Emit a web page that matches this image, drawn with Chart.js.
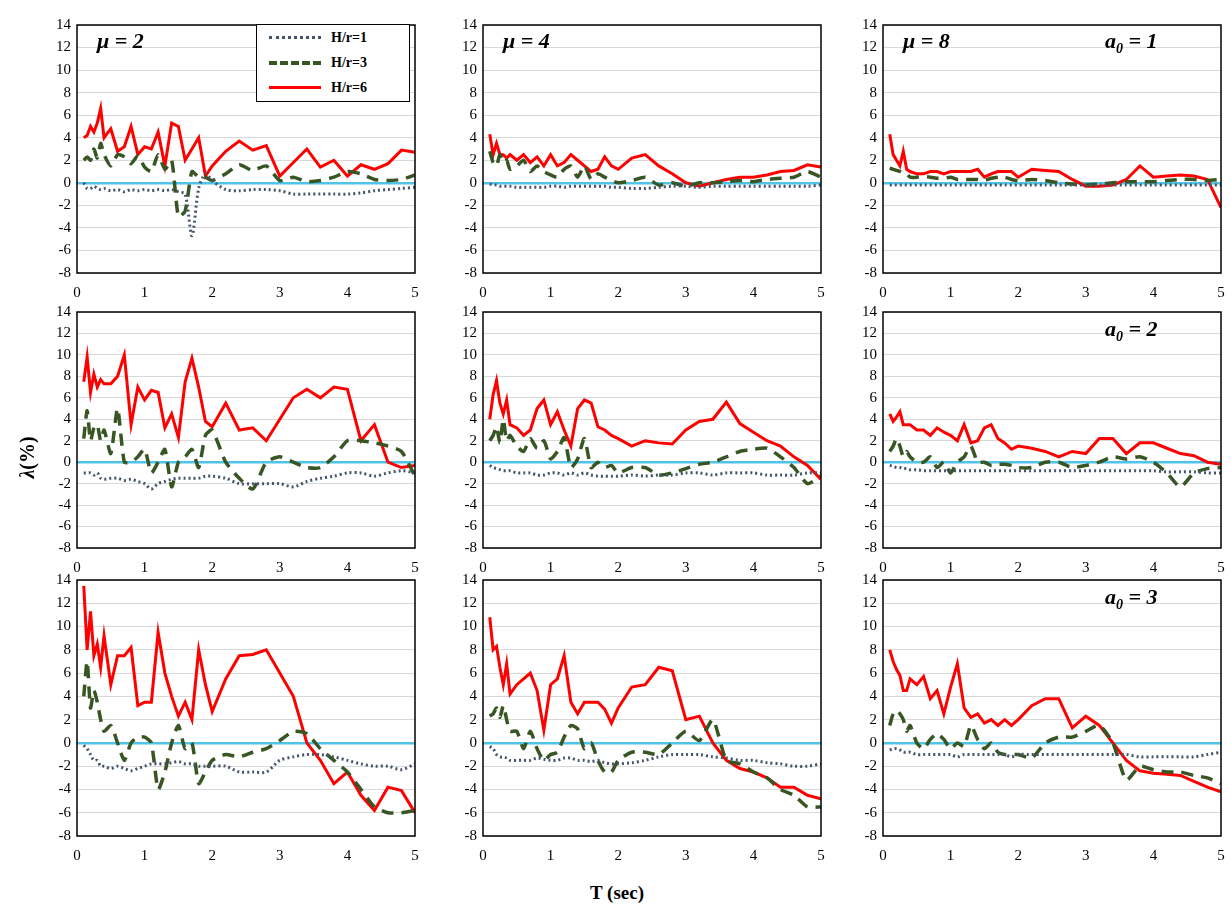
<!DOCTYPE html>
<html><head><meta charset="utf-8">
<script src="https://cdn.jsdelivr.net/npm/chart.js@4"></script>
<style>
body{margin:0;background:#fff;font-family:"Liberation Serif",serif;}
#wrap{position:relative;width:1231px;height:909px;}
canvas{position:absolute;}
.lab{position:absolute;font-weight:bold;font-style:italic;font-size:22px;font-family:"Liberation Serif",serif;}
.lab sub{font-size:14px;}
#legend{position:absolute;left:256px;top:24px;width:152px;height:76px;border:1px solid #000;background:#fff;font-weight:bold;font-size:14px;}
#legend div{height:25px;display:flex;align-items:center;}
#legend span.l{display:inline-block;width:52px;margin:0 10px 0 12px;}
</style></head><body>
<div id="wrap"></div>
<script>
var T = [0.1,0.15,0.2,0.25,0.3,0.35,0.4,0.5,0.6,0.7,0.8,0.9,1.0,1.1,1.2,1.3,1.4,1.5,1.6,1.7,1.8,1.9,2.0,2.2,2.4,2.6,2.8,3.0,3.2,3.4,3.6,3.8,4.0,4.2,4.4,4.6,4.8,5.0];
var yTicks = [-8,-6,-4,-2,0,2,4,6,8,10,12,14];
var xTicks = [0,1,2,3,4,5];

// row 1: a0 = 1
var r1c1_h1 = [0,-0.5,-0.5,-0.3,-0.5,-0.6,-0.5,-0.7,-0.6,-0.8,-0.6,-0.7,-0.6,-0.7,-0.6,-0.7,-0.6,-0.8,-1,-4.7,-0.5,0.8,0.2,-0.6,-0.7,-0.6,-0.6,-0.7,-1,-1,-1,-1,-1,-0.9,-0.7,-0.6,-0.5,-0.4];
var r1c1_h3 = [2,2.3,2,3,2.2,3.5,2.5,1.5,2.5,2.3,1.7,2.4,1.4,1,2.5,1.2,2,-3,-2.5,1,0.5,0.5,0.2,0.8,1.6,1.1,1.5,0.2,0.5,0.1,0.2,0.5,1,0.8,0.3,0.2,0.3,0.7];
var r1c1_h6 = [4,4.2,5,4.5,5.3,6.6,4,4.8,2.8,3.2,5,2.5,3.2,3,4.5,1.5,5.3,5,2,3,4,0.6,1.5,2.8,3.7,2.9,3.3,0.6,1.8,3,1.4,2,0.6,1.6,1.2,1.7,2.9,2.7];
var r1c2_h1 = [-0.1,-0.2,-0.2,-0.3,-0.3,-0.3,-0.3,-0.4,-0.4,-0.4,-0.4,-0.4,-0.3,-0.3,-0.4,-0.3,-0.3,-0.3,-0.3,-0.3,-0.3,-0.4,-0.4,-0.5,-0.5,-0.4,-0.3,-0.3,-0.4,-0.3,-0.3,-0.3,-0.3,-0.3,-0.3,-0.3,-0.3,-0.2];
var r1c2_h3 = [2.8,1.8,1.5,2.5,1.8,2,1.2,1.5,2,1,1.5,1,0.7,0.5,1.2,1.5,0.5,1.5,0.3,0.8,0.5,0.2,0,0.2,0.5,-0.2,0,-0.3,0,0,0.1,0.2,0.1,0.3,0.4,0.5,1,0.5];
var r1c2_h6 = [4.3,2.5,3.5,2.5,2.5,2.2,2.5,2,2.5,1.8,2.3,1.5,2.5,1.5,1.8,2.5,2,1.5,1,1.2,2.3,1.5,1.2,2.2,2.5,1.5,0.8,0,-0.3,0,0.3,0.5,0.5,0.7,1,1.1,1.6,1.4];
var r1c3_h1 = [-0.2,-0.2,-0.2,-0.2,-0.2,-0.2,-0.2,-0.2,-0.2,-0.2,-0.2,-0.2,-0.2,-0.2,-0.2,-0.2,-0.2,-0.2,-0.2,-0.2,-0.2,-0.2,-0.2,-0.2,-0.2,-0.2,-0.2,-0.2,-0.2,-0.2,-0.2,-0.2,-0.2,-0.2,-0.2,-0.2,-0.2,-0.2];
var r1c3_h3 = [1.3,1.2,1.1,1,0.8,0.8,0.5,0.5,0.6,0.5,0.4,0.4,0.5,0.3,0.3,0.3,0.3,0.2,0.4,0.5,0.5,0.3,0.2,0.3,0.2,0,-0.1,-0.2,-0.1,0,0.1,0.1,0.1,0.2,0.3,0.3,0.2,0.3];
var r1c3_h6 = [4.3,2.5,2,1.5,2.8,1.2,1,0.8,0.8,1,1,0.8,1,1,1,1,1.2,0.5,0.8,1,1,1,0.5,1.2,1.1,1,0.3,-0.3,-0.3,-0.2,0.3,1.5,0.5,0.6,0.7,0.6,0.3,-2.2];

// row 2: a0 = 2
var r2c1_h1 = [-1,-1,-1,-1.2,-1,-1.5,-1.6,-1.5,-1.5,-1.7,-1.6,-1.8,-2,-2.5,-2,-1.8,-1.6,-1.5,-1.5,-1.5,-1.5,-1.3,-1.3,-1.5,-2,-2,-2,-2,-2.3,-1.8,-1.5,-1.3,-1,-1,-1.3,-1,-0.8,-1];
var r2c1_h3 = [2.2,4.8,2,3.2,3.5,2,3,0.8,5,0,0,0.5,1.2,-1,0,1.2,-2.3,0,0.5,1.2,-0.5,2.5,3,0,-1.5,-2.5,0,0.5,0,-0.5,-0.5,0.5,2,2,1.8,1.5,1,-1.3];
var r2c1_h6 = [7.5,9.8,6.5,8.2,7,7.7,7.3,7.3,8,10,3.5,7,5.8,6.7,6.5,3.2,4.5,2.3,7.5,9.7,7,3.8,3.3,5.5,3,3.2,2,4,6,6.8,6,7,6.8,2,3.5,0,-0.5,-0.3];
var r2c2_h1 = [-0.3,-0.5,-0.6,-0.7,-0.8,-0.8,-0.8,-1,-1,-1,-1.2,-1.2,-1,-1,-1.2,-1,-1.2,-1,-1.2,-1.3,-1.3,-1.3,-1.3,-1.2,-1.3,-1.2,-1.2,-1,-1,-1.2,-1,-1,-1,-1.2,-1.2,-1.2,-1,-1];
var r2c2_h3 = [2,2.5,3.3,1.8,4,2,2.5,1.5,1,2.2,1.3,2,0.3,1,2.3,-0.5,0.3,2.2,-0.5,0,-0.5,-0.3,-1,-0.5,-0.5,-1.2,-1,-0.6,-0.2,0,0.5,1,1.2,1.3,0.5,-0.5,-2,-1.3];
var r2c2_h6 = [4,6.3,7.6,5.5,4.5,5.8,3.5,3.2,2.5,3,5,5.8,3.5,4.7,3,1.5,5,5.8,5.5,3.3,3,2.5,2.2,1.5,2,1.8,1.7,3,3.8,4,5.6,3.6,2.8,2,1.5,0.5,-0.3,-1.6];
var r2c3_h1 = [-0.3,-0.4,-0.5,-0.5,-0.6,-0.6,-0.7,-0.7,-0.8,-0.8,-0.8,-0.8,-0.8,-0.8,-0.8,-0.8,-0.8,-0.8,-0.8,-0.8,-0.8,-0.8,-0.8,-0.8,-0.8,-0.8,-0.8,-0.8,-0.8,-0.8,-0.8,-0.8,-0.8,-0.9,-0.9,-0.9,-1,-1];
var r2c3_h3 = [1,1.5,2.2,1.5,0.5,1,0.5,0,0,0.5,-0.5,0,-1,0,0.5,1.5,0,0,-0.3,-0.2,-0.2,-0.3,-0.5,-0.5,0,0,-0.5,-0.3,0,0.5,0.3,0.5,0,-1,-2.3,-1,-0.6,-0.5];
var r2c3_h6 = [4.5,3.8,4.2,4.7,3.5,3.5,3.5,3,3,2.5,3.2,2.8,2.5,2,3.5,1.8,2,3.2,3.5,2.2,1.8,1.2,1.5,1.3,1,0.5,1,0.8,2.2,2.2,0.8,1.8,1.8,1.3,0.8,0.6,0,-0.2];

// row 3: a0 = 3
var r3c1_h1 = [-0.2,-0.5,-1,-1.5,-1.5,-2,-2,-2.2,-2,-2.2,-2.4,-2.2,-2,-1.8,-1.8,-1.8,-1.7,-1.6,-1.8,-1.8,-2,-2,-2,-2,-2.5,-2.5,-2.5,-1.5,-1.2,-1,-1,-1.2,-1.5,-1.8,-2,-2,-2.3,-1.8];
var r3c1_h3 = [4,7,3,4.5,3.5,2,1,1.5,0,-1.5,0,0.5,0.5,0,-4,-2.5,0,1.5,-0.5,0,-3.5,-2.5,-1.5,-1,-1.2,-0.8,-0.5,0.2,1,0.8,-0.5,-1.5,-2.5,-4,-5.5,-6,-6,-5.8];
var r3c1_h6 = [13.5,8,11.3,7.5,8.5,6.5,9.2,5,7.5,7.5,8.2,3.2,3.5,3.5,9.5,6,4,2.3,3.5,2,8,5,2.7,5.5,7.5,7.6,8,6,4,0,-1.5,-3.5,-2.5,-4.5,-5.8,-3.8,-4.1,-6];
var r3c2_h1 = [-0.3,-0.5,-1,-1.2,-1.2,-1.3,-1.5,-1.5,-1.5,-1.5,-1.3,-1.4,-1.5,-1.5,-1.3,-1.3,-1.5,-1.5,-1.6,-1.5,-1.7,-1.8,-1.8,-1.7,-1.5,-1.2,-1,-1,-1,-1.2,-1.3,-1.5,-1.5,-1.7,-1.8,-2,-2,-1.8];
var r3c2_h3 = [2.3,2.5,3,2.2,3.2,2,1,1,-0.5,1,-0.5,-1.5,-1,-0.8,0.5,1.5,1.2,-0.5,0,-1.5,-2.5,-2.5,-1.5,-0.8,-0.8,-1,0,1,0.2,2,-1.5,-1.8,-2.5,-3,-4,-4.5,-5.5,-5.5];
var r3c2_h6 = [10.8,8,8.3,6.5,5,6.8,4.2,5,5.5,6,4.5,1.1,5,5.5,7.5,3.5,2.5,3.5,3.5,3.5,2.9,1.7,3,4.8,5,6.5,6.2,2,2.3,0,-1.5,-2.2,-2.5,-3,-3.8,-3.8,-4.5,-4.8];
var r3c3_h1 = [-0.6,-0.5,-0.5,-0.6,-0.8,-0.8,-0.8,-1,-1,-1,-1,-1,-1,-1.2,-1,-1,-1,-1,-1,-1,-1,-1.2,-1,-1,-1,-1,-1,-1,-1,-1,-1,-1.2,-1.2,-1.2,-1.2,-1.2,-1,-0.8];
var r3c3_h3 = [1.5,2.5,2.8,2.5,2,1,1.5,0,-0.5,0.3,0.8,0.3,-0.5,0,-0.3,1.5,0.3,-0.5,0,-0.8,-1,-1,-1,-1.3,0,0.5,0.5,1,1.5,0,-3.2,-2,-2.3,-2.5,-2.5,-2.8,-3,-3.5];
var r3c3_h6 = [8,7,6.3,5.8,4.5,4.5,5.5,5,5.7,3.8,4.5,2.5,4.8,6.8,3,2.2,2.5,1.7,2,1.5,2,1.5,2,3.2,3.8,3.8,1.3,2.3,1.5,0,-1.5,-2.4,-2.6,-2.7,-2.8,-3.3,-3.8,-4.2];

var panels = [
  [r1c1_h1,r1c1_h3,r1c1_h6],[r1c2_h1,r1c2_h3,r1c2_h6],[r1c3_h1,r1c3_h3,r1c3_h6],
  [r2c1_h1,r2c1_h3,r2c1_h6],[r2c2_h1,r2c2_h3,r2c2_h6],[r2c3_h1,r2c3_h3,r2c3_h6],
  [r3c1_h1,r3c1_h3,r3c1_h6],[r3c2_h1,r3c2_h3,r3c2_h6],[r3c3_h1,r3c3_h3,r3c3_h6]
];
var colLeft = [45,451,851];
var rowTop = [18,305,573];
var rowH = [255,243,263];
var YW = 32, PW = 338, PAD = 8, XH = 26;

var wrap = document.getElementById("wrap");

function pts(arr){
  return T.map(function(t,i){ return {x:t,y:arr[i]}; });
}

var boxPlugin = {
  id:"box",
  afterDraw:function(c){
    var a = c.chartArea, ctx = c.ctx;
    ctx.save();
    ctx.strokeStyle = "#000"; ctx.lineWidth = 1.5;
    ctx.strokeRect(a.left, a.top, a.right-a.left, a.bottom-a.top);
    ctx.restore();
  }
};

panels.forEach(function(p, k){
  var r = Math.floor(k/3), c = k%3;
  var cv = document.createElement("canvas");
  cv.style.left = colLeft[c] + "px";
  cv.style.top = (rowTop[r]-PAD) + "px";
  cv.width = YW + PW + PAD; cv.height = rowH[r] + PAD + XH;
  cv.style.width = cv.width + "px"; cv.style.height = cv.height + "px";
  wrap.appendChild(cv);
  new Chart(cv, {
    type: "line",
    data: { datasets: [
      {data: pts(p[0]), borderColor:"#44546a", borderWidth:3, borderDash:[2,3], pointRadius:0, tension:0.3},
      {data: pts(p[1]), borderColor:"#375623", borderWidth:3.5, borderDash:[12,8], pointRadius:0, tension:0.2},
      {data: pts(p[2]), borderColor:"#ff0000", borderWidth:3, pointRadius:0, tension:0}
    ]},
    options: {
      animation:false, responsive:false, devicePixelRatio:1,
      layout:{padding:{top:PAD, right:PAD, left:0, bottom:0}},
      plugins:{legend:{display:false}, tooltip:{enabled:false}},
      scales:{
        x:{type:"linear", min:0, max:5,
           afterBuildTicks:function(s){ s.ticks = xTicks.map(function(v){return {value:v};}); },
           grid:{display:false}, border:{display:false},
           ticks:{color:"#000", font:{family:"Liberation Serif", size:15}, maxRotation:0},
           afterFit:function(s){ s.height = XH; }},
        y:{min:-8, max:14,
           afterBuildTicks:function(s){ s.ticks = yTicks.map(function(v){return {value:v};}); },
           grid:{color:function(ctx){ return ctx.tick && ctx.tick.value===0 ? "#4fc3e8" : "#d9d9d9"; },
                 lineWidth:function(ctx){ return ctx.tick && ctx.tick.value===0 ? 2.5 : 1; },
                 drawTicks:false},
           border:{display:false},
           ticks:{color:"#000", font:{family:"Liberation Serif", size:15}, padding:6},
           afterFit:function(s){ s.width = YW; }}
      }
    },
    plugins:[boxPlugin]
  });
});

function addLab(html, x, y){
  var d = document.createElement("div");
  d.className = "lab"; d.innerHTML = html;
  d.style.left = x + "px"; d.style.top = y + "px";
  wrap.appendChild(d);
}
var muLabels = ["\u03bc = 2","\u03bc = 4","\u03bc = 8"];
for (var c = 0; c < 3; c++) addLab(muLabels[c], colLeft[c]+YW+20, 28);
addLab("a<sub>0</sub> = 1", 1105, 28);
addLab("a<sub>0</sub> = 2", 1105, 316);
addLab("a<sub>0</sub> = 3", 1105, 584);

var lg = document.createElement("div");
lg.id = "legend";
lg.innerHTML =
  '<div><span class="l" style="border-top:3px dotted #44546a"></span>H/r=1</div>' +
  '<div><span class="l" style="border-top:4px dashed #375623"></span>H/r=3</div>' +
  '<div><span class="l" style="border-top:3px solid #ff0000"></span>H/r=6</div>';
wrap.appendChild(lg);

var yl = document.createElement("div");
yl.style.cssText = "position:absolute;left:-8px;top:446px;transform:rotate(-90deg);font-weight:bold;font-size:20px;width:70px;text-align:center;";
yl.innerHTML = "<i>\u03bb</i>(%)";
wrap.appendChild(yl);

var xl = document.createElement("div");
xl.style.cssText = "position:absolute;left:590px;top:882px;font-weight:bold;font-size:19px;";
xl.textContent = "T (sec)";
wrap.appendChild(xl);
</script>
</body></html>
